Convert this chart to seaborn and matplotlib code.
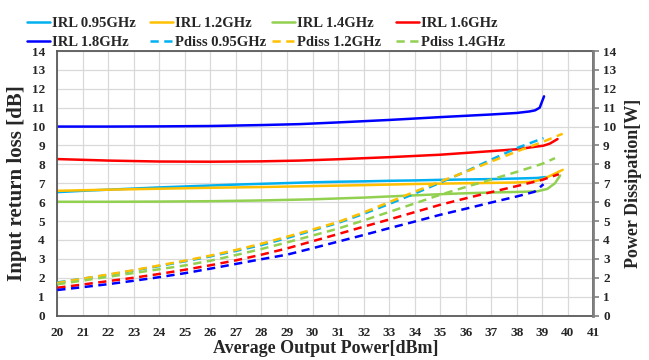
import matplotlib
matplotlib.use("Agg")
import matplotlib.pyplot as plt
import seaborn as sns
import pandas as pd

# ---------------- data ----------------
# Input return loss [dB] (left axis)
irl_095_x = [20, 21, 22, 23, 24, 25, 26, 27, 28, 29, 30, 31, 32, 33, 34, 35, 36, 37, 38, 38.8, 39.15]
irl_095_y = [6.53, 6.6, 6.66, 6.72, 6.78, 6.83, 6.88, 6.93, 6.97, 7.01, 7.05, 7.08, 7.1, 7.13, 7.15, 7.18, 7.2, 7.22, 7.25, 7.28, 7.33]

irl_12_x = [20, 22, 24, 26, 28, 30, 32, 34, 35, 36, 37, 38, 38.6, 39.0, 39.4, 39.8]
irl_12_y = [6.6, 6.66, 6.71, 6.76, 6.8, 6.85, 6.9, 6.96, 6.98, 7.0, 7.02, 7.04, 7.08, 7.2, 7.45, 7.71]

irl_14_x = [20, 22, 24, 26, 28, 30, 32, 34, 35, 36, 37, 38, 38.8, 39.2, 39.5, 39.7]
irl_14_y = [6.02, 6.02, 6.03, 6.05, 6.09, 6.15, 6.24, 6.36, 6.42, 6.47, 6.51, 6.54, 6.57, 6.7, 7.0, 7.41]

irl_16_x = [20, 22, 24, 26, 28, 29.5, 31, 33, 35, 37, 38, 39.05, 39.3, 39.6]
irl_16_y = [8.28, 8.2, 8.15, 8.14, 8.16, 8.2, 8.27, 8.38, 8.51, 8.7, 8.8, 8.99, 9.1, 9.34]

irl_18_x = [20, 22, 24, 26, 28, 29.5, 31, 33, 35, 36, 37, 38, 38.5, 38.72, 38.9, 39.07]
irl_18_y = [10.0, 10.0, 10.01, 10.03, 10.08, 10.13, 10.22, 10.35, 10.5, 10.57, 10.64, 10.72, 10.8, 10.86, 11.0, 11.6]

# Power dissipation [W] (right axis)
pd_095_x = [20, 21, 22, 23, 24, 25, 26, 27, 28, 29, 30, 31, 32, 33, 34, 35, 36, 37, 38, 39.05]
pd_095_y = [1.75, 1.95, 2.15, 2.38, 2.62, 2.87, 3.13, 3.42, 3.73, 4.1, 4.5, 4.9, 5.38, 5.9, 6.45, 7.03, 7.62, 8.25, 8.86, 9.39]

pd_12_x = [20, 21, 22, 23, 24, 25, 26, 27, 28, 29, 30, 31, 32, 33, 34, 35, 36, 37, 38, 39, 39.8]
pd_12_y = [1.72, 1.95, 2.17, 2.4, 2.65, 2.9, 3.17, 3.47, 3.8, 4.17, 4.55, 4.95, 5.45, 6.0, 6.55, 7.09, 7.6, 8.15, 8.68, 9.18, 9.62]

pd_14_x = [20, 21, 22, 23, 24, 25, 26, 27, 28, 29, 30, 31, 32, 33, 34, 35, 36, 37, 38, 39, 39.5]
pd_14_y = [1.65, 1.85, 2.05, 2.25, 2.45, 2.65, 2.9, 3.2, 3.52, 3.87, 4.23, 4.6, 5.03, 5.48, 5.93, 6.39, 6.8, 7.2, 7.6, 8.03, 8.33]

pd_16_x = [20, 21, 22, 23, 24, 25, 26, 27, 28, 29, 30, 31, 32, 33, 34, 35, 36, 37, 38, 39, 39.65]
pd_16_y = [1.47, 1.64, 1.82, 2.0, 2.2, 2.42, 2.66, 2.92, 3.22, 3.55, 3.93, 4.31, 4.7, 5.08, 5.47, 5.86, 6.2, 6.53, 6.85, 7.18, 7.48]

pd_18_x = [20, 21, 22, 23, 24, 25, 26, 27, 28, 29, 30, 31, 32, 33, 34, 35, 36, 37, 38, 38.7, 39.05]
pd_18_y = [1.35, 1.5, 1.66, 1.84, 2.03, 2.24, 2.48, 2.73, 2.98, 3.22, 3.56, 3.91, 4.26, 4.62, 4.97, 5.33, 5.65, 5.98, 6.3, 6.55, 6.95]

x_ticks = list(range(20, 42))
y_ticks = list(range(0, 15))

irl_series = [
    ("IRL 0.95GHz", irl_095_x, irl_095_y, "#00B0F0"),
    ("IRL 1.2GHz", irl_12_x, irl_12_y, "#FFC000"),
    ("IRL 1.4GHz", irl_14_x, irl_14_y, "#92D050"),
    ("IRL 1.6GHz", irl_16_x, irl_16_y, "#FF0000"),
    ("IRL 1.8GHz", irl_18_x, irl_18_y, "#0000FF"),
]
pd_series = [
    ("Pdiss 0.95GHz", pd_095_x, pd_095_y, "#00B0F0"),
    ("Pdiss 1.2GHz", pd_12_x, pd_12_y, "#FFC000"),
    ("Pdiss 1.4GHz", pd_14_x, pd_14_y, "#92D050"),
    ("Pdiss 1.6GHz", pd_16_x, pd_16_y, "#FF0000"),
    ("Pdiss 1.8GHz", pd_18_x, pd_18_y, "#0000FF"),
]

# ---------------- style ----------------
sns.set_theme(style="white")
plt.rcParams['font.family'] = ['Liberation Serif', 'DejaVu Serif']
plt.rcParams['font.weight'] = 'bold'

fig = plt.figure(figsize=(6.49, 3.6), dpi=100)
ax = fig.add_axes([57.3 / 649, 1 - 315.5 / 360, (593.3 - 57.3) / 649, (315.5 - 51) / 360])
ax2 = ax.twinx()

LW = 1.8
handles = {}
for name, xs, ys, col in irl_series:
    df = pd.DataFrame({"x": xs, "y": ys})
    sns.lineplot(data=df, x="x", y="y", ax=ax, color=col, linewidth=LW, label=name,
                 legend=False, estimator=None, sort=False)
    handles[name] = ax.lines[-1]
for name, xs, ys, col in pd_series:
    df = pd.DataFrame({"x": xs, "y": ys})
    sns.lineplot(data=df, x="x", y="y", ax=ax2, color=col, linewidth=LW, label=name,
                 legend=False, estimator=None, sort=False)
    ln = ax2.lines[-1]
    ln.set_dashes((3.3, 2.2))
    handles[name] = ln

for a in (ax, ax2):
    a.set_xlim(20, 41)
    a.set_ylim(0, 14)
    a.set_yticks(y_ticks)

ax.set_xticks(x_ticks)
ax.grid(True, color="#D9D9D9", linewidth=0.9)
ax.set_axisbelow(True)
ax2.grid(False)

tick_font = dict(fontsize=9.5, fontweight='bold')
ax.set_xticklabels([str(t) for t in x_ticks], **tick_font)
ax.set_yticklabels([str(t) for t in y_ticks], **tick_font)
ax2.set_yticklabels([str(t) for t in y_ticks], **tick_font)

ax.tick_params(axis='x', length=0, pad=8)
ax.tick_params(axis='y', length=0, pad=9)
ax2.tick_params(axis='y', length=4, width=1.2, color="#808080", pad=3, direction='out')

for s in ("left", "bottom", "top"):
    ax.spines[s].set_color("#595959")
    ax.spines[s].set_linewidth(1.3)
ax2.spines["right"].set_color("#808080")
ax2.spines["right"].set_linewidth(2.0)
for s in ("left", "bottom", "top"):
    ax2.spines[s].set_visible(False)

ax.set_xlabel("Average Output Power[dBm]", fontsize=13, fontweight='bold', labelpad=1)
ax.set_ylabel("Input return loss [dB]", fontsize=15, fontweight='bold', labelpad=3)
ax2.set_ylabel("Power Dissipation[W]", fontsize=13, fontweight='bold', labelpad=6)

# legend: 4 columns of 2 rows, placed like the Excel legend
legend_cols = [
    ["IRL 0.95GHz", "IRL 1.8GHz"],
    ["IRL 1.2GHz", "Pdiss 0.95GHz"],
    ["IRL 1.4GHz", "Pdiss 1.2GHz"],
    ["IRL 1.6GHz", "Pdiss 1.4GHz"],
]
col_x = [27, 150, 272, 396]
for cx, names in zip(col_x, legend_cols):
    fig.legend([handles[n] for n in names], names, loc="upper left",
               bbox_to_anchor=(cx / 649, 1 - 17 / 360), frameon=False,
               borderpad=0, borderaxespad=0, handlelength=1.6, handletextpad=0.12,
               labelspacing=0.4, prop=dict(family='Liberation Serif', weight='bold', size=10.5))

fig.savefig("out.png", dpi=100)
